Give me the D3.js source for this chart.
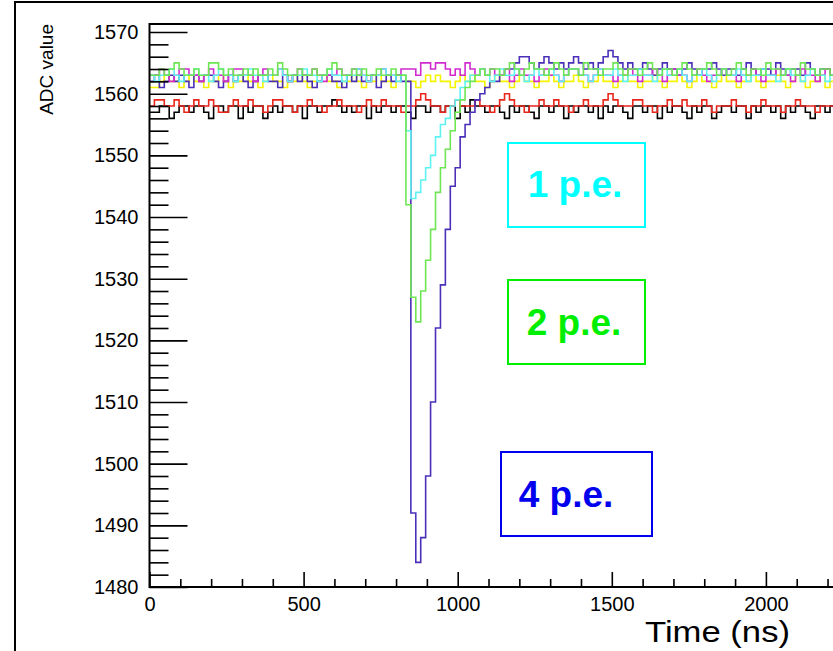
<!DOCTYPE html>
<html>
<head>
<meta charset="utf-8">
<script src="https://cdn.jsdelivr.net/npm/d3@7"></script>
<style>
  body { margin: 0; background: #fff; }
  svg { display: block; font-family: "Liberation Sans", Arial, Helvetica, sans-serif; }
</style>
</head>
<body>
<svg id="chart" width="833" height="651"></svg>
<script>
// ADC waveforms, 16 ns bins starting at t = 0
const binWidth = 16;

const black = [
  1557,1557,1558,1558,1556,1557,1558,1558,1557,1558,
  1558,1557,1556,1558,1558,1557,1558,1558,1556,1558,
  1557,1558,1558,1556,1557,1558,1557,1558,1558,1557,
  1558,1556,1558,1558,1557,1558,1558,1559,1558,1557,
  1558,1557,1558,1558,1556,1558,1557,1558,1558,1557,
  1558,1558,1557,1556,1558,1558,1557,1558,1558,1557,
  1558,1558,1556,1558,1557,1559,1558,1558,1557,1558,
  1558,1557,1556,1558,1557,1558,1558,1557,1556,1558,
  1558,1557,1558,1558,1556,1558,1557,1558,1558,1557,
  1558,1556,1558,1557,1558,1558,1557,1556,1558,1558,
  1557,1558,1558,1556,1558,1557,1558,1558,1557,1556,
  1558,1557,1558,1558,1556,1557,1558,1558,1557,1558,
  1558,1556,1558,1557,1558,1558,1557,1558,1556,1558,
  1557,1558,1558,1557,1556,1558,1558,1557,1558
];

const red = [
  1558,1559,1559,1558,1558,1559,1558,1557,1558,1559,
  1558,1558,1559,1558,1557,1557,1558,1559,1558,1558,
  1559,1558,1558,1557,1558,1559,1559,1558,1558,1557,
  1558,1558,1559,1558,1558,1557,1558,1558,1559,1558,
  1558,1558,1557,1558,1559,1558,1558,1559,1558,1558,
  1558,1557,1558,1558,1559,1560,1559,1558,1558,1557,
  1558,1558,1559,1558,1558,1558,1559,1558,1558,1557,
  1558,1559,1560,1559,1558,1558,1557,1558,1558,1559,
  1558,1558,1559,1558,1558,1557,1558,1558,1559,1558,
  1558,1558,1559,1560,1559,1558,1558,1558,1559,1559,
  1558,1558,1557,1558,1558,1559,1558,1558,1559,1558,
  1558,1558,1559,1558,1557,1558,1558,1558,1559,1558,
  1558,1557,1558,1558,1559,1558,1558,1558,1557,1558,
  1558,1559,1558,1558,1558,1557,1558,1558,1558
];

const yellow = [
  1561,1561,1562,1563,1562,1562,1561,1562,1563,1562,
  1562,1561,1562,1562,1563,1562,1561,1562,1562,1563,
  1562,1562,1561,1562,1563,1562,1562,1561,1562,1562,
  1563,1562,1561,1562,1562,1563,1562,1562,1561,1562,
  1562,1563,1562,1561,1562,1562,1563,1562,1562,1561,
  1562,1563,1562,1562,1561,1562,1563,1562,1563,1562,
  1562,1561,1562,1563,1562,1563,1562,1562,1561,1562,
  1563,1562,1562,1561,1562,1563,1562,1562,1561,1562,
  1562,1563,1562,1561,1562,1562,1563,1562,1561,1562,
  1562,1563,1562,1562,1561,1562,1563,1562,1562,1561,
  1562,1562,1563,1562,1561,1562,1562,1563,1562,1561,
  1562,1563,1562,1562,1561,1562,1563,1562,1562,1561,
  1562,1562,1563,1562,1561,1562,1562,1563,1562,1561,
  1562,1563,1562,1561,1562,1562,1563,1561,1562
];

const magenta = [
  1563,1563,1564,1563,1562,1563,1564,1564,1563,1563,
  1562,1563,1564,1563,1563,1562,1563,1564,1564,1563,
  1563,1562,1563,1564,1563,1563,1564,1563,1562,1563,
  1564,1563,1563,1564,1563,1562,1563,1563,1564,1563,
  1563,1564,1564,1563,1562,1563,1563,1564,1563,1563,
  1563,1564,1564,1564,1563,1565,1565,1564,1565,1565,
  1564,1563,1564,1563,1565,1564,1563,1564,1563,1564,
  1563,1563,1564,1562,1563,1564,1563,1563,1562,1563,
  1564,1563,1563,1562,1563,1564,1564,1563,1563,1562,
  1563,1564,1563,1563,1562,1563,1563,1564,1563,1562,
  1563,1563,1564,1563,1562,1563,1564,1563,1563,1562,
  1563,1564,1563,1562,1563,1563,1564,1563,1563,1562,
  1563,1563,1564,1563,1562,1563,1563,1564,1563,1563,
  1562,1563,1564,1563,1563,1562,1563,1564,1563
];

// 4 p.e. pulse
const blue = [
  1562,1563,1561,1562,1563,1562,1563,1562,1561,1563,
  1562,1563,1563,1562,1561,1562,1563,1562,1563,1562,
  1561,1562,1563,1563,1562,1562,1561,1563,1562,1563,
  1562,1563,1562,1561,1562,1563,1563,1562,1562,1561,
  1563,1562,1563,1562,1562,1563,1561,1562,1563,1562,
  1563,1562,1562,
  1492,1484,1488,1498,1510,1522,1529,1538,1545,1548,1553,1555,1557,1559,1560,1561,1562,
  1562,1563,1564,1564,1565,1566,1566,1565,1564,1565,
  1566,1565,1564,1565,1564,1565,1566,1565,1564,1565,
  1564,1565,1566,1567,1566,1565,1564,1565,1564,1564,
  1565,1564,1563,1564,1565,1564,1564,1563,1564,1565,
  1564,1563,1564,1564,1565,1564,1563,1564,1564,1563,
  1564,1565,1564,1563,1564,1564,1563,1565,1564,1563,
  1564,1564,1563,1565,1564,1563,1564,1564,1563
];

// 1 p.e. pulse
const cyan = [
  1563,1562,1563,1563,1564,1563,1562,1563,1563,1564,
  1563,1563,1562,1563,1564,1563,1563,1562,1563,1563,
  1564,1563,1563,1562,1563,1563,1564,1563,1562,1563,
  1563,1564,1563,1563,1562,1563,1564,1563,1563,1562,
  1563,1563,1564,1563,1562,1563,1563,1564,1563,1563,
  1562,1563,
  1554,1543,1544,1546,1548,1550,1553,1555,1556,1558,1559,1561,1562,
  1563,1563,1564,1563,1562,
  1563,1564,1563,1563,1564,1563,1562,1563,1564,1563,
  1563,1564,1563,1562,1563,1564,1564,1563,1563,1562,
  1563,1564,1563,1563,1564,1563,1562,1563,1563,1564,
  1563,1563,1562,1563,1564,1563,1563,1564,1563,1562,
  1563,1563,1564,1563,1562,1563,1564,1563,1563,1564,
  1563,1562,1563,1563,1564,1563,1563,1562,1563,1564,
  1563,1563,1562,1563,1564,1563,1563,1562,1563
];

// 2 p.e. pulse
const green = [
  1563,1563,1564,1563,1564,1565,1564,1563,1563,1564,
  1563,1563,1565,1565,1564,1563,1564,1563,1563,1564,
  1563,1564,1563,1563,1564,1563,1565,1564,1563,1563,
  1564,1563,1563,1564,1563,1563,1564,1565,1564,1563,
  1563,1564,1563,1564,1563,1563,1564,1563,1563,1564,
  1563,1563,
  1542,1527,1523,1528,1533,1538,1544,1548,1551,1554,1557,1559,1561,1562,
  1563,1564,1563,1564,
  1564,1563,1564,1565,1564,1563,1564,1565,1564,1564,
  1563,1564,1565,1564,1563,1564,1564,1563,1565,1564,
  1564,1563,1564,1564,1565,1564,1563,1564,1564,1563,
  1564,1565,1564,1563,1564,1564,1563,1564,1565,1564,
  1563,1564,1564,1565,1564,1563,1564,1563,1564,1565,
  1564,1563,1564,1564,1563,1565,1564,1564,1563,1564,
  1564,1563,1565,1564,1564,1563,1564,1564,1563
];

const series = [
  {values: black, color: "#000000"},
  {values: red, color: "#e8261c"},
  {values: yellow, color: "#f4f400"},
  {values: blue, color: "#4b2fb8"},
  {values: magenta, color: "#d02ad0"},
  {values: cyan, color: "#5ef2f2"},
  {values: green, color: "#6ee654"}
];

// annotation: text, colour, text centre/baseline, box
const labels = [
  {text: "1 p.e.", color: "#00ffff", at: [575, 197], box: [508, 143, 137, 84]},
  {text: "2 p.e.", color: "#00ee00", at: [574, 335], box: [508, 280, 137, 84]},
  {text: "4 p.e.", color: "#0000ee", at: [566, 507], box: [501, 452, 151, 84]}
];

const xMajor = [0, 500, 1000, 1500, 2000];
const yMajor = [1480, 1490, 1500, 1510, 1520, 1530, 1540, 1550, 1560, 1570];

const [W, H] = [833, 651];
const padL = 149.5, padT = 24, padB = 587;

const x = d3.scaleLinear().domain([0, 2500]).range([padL, padL + 2500 * 0.3082]);
const y = d3.scaleLinear().domain([1480, 1571.3]).range([padB, padT]);

const svg = d3.select("#chart");

// outer canvas border
svg.append("path")
    .attr("d", `M15,${H} L15,2 L${W},2`)
    .attr("fill", "none")
    .attr("stroke", "#000")
    .attr("stroke-width", 2);

svg.append("clipPath").attr("id", "plotclip")
    .append("rect")
    .attr("x", padL).attr("y", padT)
    .attr("width", W - padL).attr("height", padB - padT);

const traces = svg.append("g").attr("clip-path", "url(#plotclip)");

const line = d3.line()
    .x(d => x(d[0]))
    .y(d => y(d[1]))
    .curve(d3.curveStepAfter);

series.forEach(s => {
    const pts = s.values.map((v, i) => [i * binWidth, v]);
    pts.push([s.values.length * binWidth, s.values[s.values.length - 1]]);
    traces.append("path")
        .datum(pts)
        .attr("d", line)
        .attr("fill", "none")
        .attr("stroke", s.color)
        .attr("stroke-width", 1.6);
});

// y axis, ticks pointing inward
const yMinor = d3.range(1480, 1572, 2).filter(v => v % 10 !== 0);
svg.append("g")
    .attr("transform", `translate(${padL},0)`)
    .call(d3.axisLeft(y).tickValues(yMinor).tickSize(-19).tickFormat(""))
    .call(g => g.select(".domain").remove());
svg.append("g")
    .attr("transform", `translate(${padL},0)`)
    .call(d3.axisLeft(y).tickValues(yMajor).tickSize(-38).tickPadding(11).tickFormat(d3.format("d")))
    .call(g => g.select(".domain").remove())
    .selectAll("text")
    .style("font-size", "20px")
    .attr("fill", "#000");

// x axis
const xMinor = d3.range(0, 2300, 100).filter(v => v % 500 !== 0);
svg.append("g")
    .attr("transform", `translate(0,${padB})`)
    .call(d3.axisBottom(x).tickValues(xMinor).tickSize(-8).tickFormat(""))
    .call(g => g.select(".domain").remove());
svg.append("g")
    .attr("transform", `translate(0,${padB})`)
    .call(d3.axisBottom(x).tickValues(xMajor).tickSize(-15).tickPadding(10).tickFormat(d3.format("d")))
    .call(g => g.select(".domain").remove())
    .selectAll("text")
    .style("font-size", "20px")
    .attr("fill", "#000");

svg.selectAll(".tick line").attr("stroke", "#000").attr("stroke-width", 1.6);

// frame
svg.append("path")
    .attr("d", `M${W + 5},${padT} L${padL},${padT} L${padL},${padB} L${W + 5},${padB}`)
    .attr("fill", "none")
    .attr("stroke", "#000")
    .attr("stroke-width", 2);

// axis titles
svg.append("text")
    .attr("transform", "translate(53,24) rotate(-90)")
    .attr("text-anchor", "end")
    .style("font-size", "19px")
    .text("ADC value");

svg.append("text")
    .attr("x", 645)
    .attr("y", 642)
    .attr("textLength", 145)
    .attr("lengthAdjust", "spacingAndGlyphs")
    .style("font-size", "30px")
    .text("Time (ns)");

// p.e. annotation boxes
labels.forEach(l => {
    const [bx, by, bw, bh] = l.box;
    svg.append("rect")
        .attr("x", bx).attr("y", by)
        .attr("width", bw).attr("height", bh)
        .attr("fill", "#fff")
        .attr("stroke", l.color)
        .attr("stroke-width", 2);
    svg.append("text")
        .attr("x", l.at[0])
        .attr("y", l.at[1])
        .attr("text-anchor", "middle")
        .style("font-size", "37px")
        .style("font-weight", "bold")
        .attr("fill", l.color)
        .text(l.text);
});
</script>
</body>
</html>
